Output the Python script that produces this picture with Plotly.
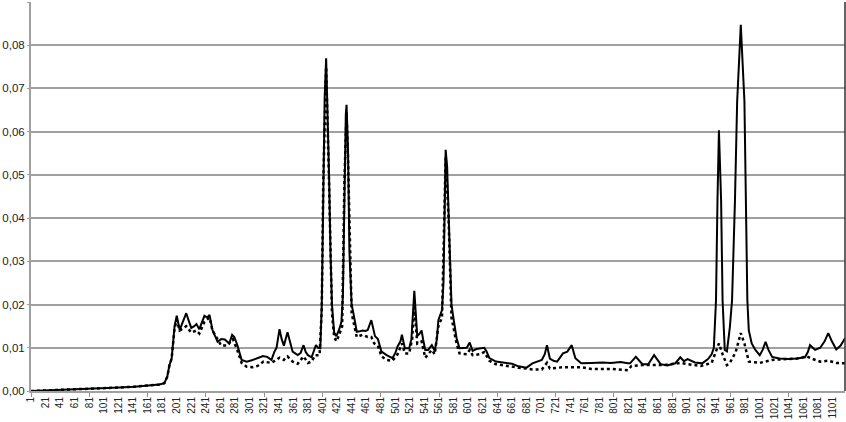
import plotly.graph_objects as go

# category index / value pairs
solid_x = [
    1, 19, 40, 60, 81, 102, 122, 143, 163, 177,
    184, 188, 191, 194, 198, 201, 205, 209, 214, 218,
    221, 225, 228, 232, 236, 239, 243, 246, 250, 253,
    257, 262, 267, 273, 277, 280, 284, 290, 297, 304,
    310, 315, 319, 325, 331, 335, 338, 342, 345, 348,
    353, 356, 360, 367, 371, 375, 378, 381, 386, 389,
    392, 395, 398, 400, 402, 404, 406, 408, 410, 412,
    414, 417, 420, 424, 427, 429, 431, 433, 434, 436,
    438, 441, 444, 448, 452, 456, 460, 463, 468, 470,
    473, 477, 480, 482, 489, 497, 501, 504, 508, 510,
    514, 520, 523, 525, 527, 529, 531, 534, 537, 539,
    542, 546, 551, 555, 558, 560, 565, 567, 568, 570,
    572, 574, 576, 578, 581, 585, 589, 594, 599, 603,
    607, 612, 617, 623, 626, 630, 639, 653, 661, 670,
    681, 689, 695, 702, 706, 709, 713, 718, 723, 731,
    737, 743, 748, 756, 770, 785, 797, 810, 820, 823,
    831, 840, 848, 856, 865, 874, 885, 892, 897, 902,
    912, 922, 930, 935, 938, 941, 943, 945, 948, 950,
    953, 956, 960, 963, 967, 970, 975, 978, 980, 982,
    984, 986, 990, 995, 1001, 1005, 1009, 1013, 1018, 1028,
    1040, 1052, 1063, 1067, 1070, 1077, 1084, 1090, 1095, 1100,
    1106, 1112, 1118,
]
solid_y = [
    0.0000, 0.0001, 0.0002, 0.0003, 0.0005, 0.0006, 0.0008, 0.0010, 0.0012, 0.0015,
    0.0018, 0.0033, 0.0060, 0.0075, 0.0150, 0.0174, 0.0141, 0.0160, 0.0180, 0.0160,
    0.0146, 0.0150, 0.0155, 0.0143, 0.0162, 0.0174, 0.0170, 0.0176, 0.0141, 0.0128,
    0.0114, 0.0120, 0.0119, 0.0110, 0.0130, 0.0125, 0.0107, 0.0072, 0.0068, 0.0071,
    0.0074, 0.0078, 0.0081, 0.0079, 0.0072, 0.0091, 0.0100, 0.0143, 0.0120, 0.0105,
    0.0136, 0.0115, 0.0091, 0.0083, 0.0088, 0.0106, 0.0090, 0.0083, 0.0078, 0.0092,
    0.0106, 0.0100, 0.0099, 0.0200, 0.0500, 0.0680, 0.0770, 0.0650, 0.0500, 0.0320,
    0.0200, 0.0135, 0.0127, 0.0143, 0.0160, 0.0220, 0.0500, 0.0640, 0.0662, 0.0560,
    0.0320, 0.0200, 0.0175, 0.0137, 0.0138, 0.0140, 0.0139, 0.0141, 0.0164, 0.0150,
    0.0127, 0.0120, 0.0105, 0.0091, 0.0083, 0.0076, 0.0088, 0.0103, 0.0115, 0.0130,
    0.0099, 0.0099, 0.0120, 0.0190, 0.0232, 0.0180, 0.0127, 0.0132, 0.0140, 0.0120,
    0.0095, 0.0095, 0.0106, 0.0093, 0.0120, 0.0164, 0.0187, 0.0250, 0.0400, 0.0558,
    0.0520, 0.0420, 0.0300, 0.0200, 0.0165, 0.0122, 0.0099, 0.0099, 0.0100, 0.0112,
    0.0093, 0.0097, 0.0099, 0.0100, 0.0092, 0.0076, 0.0068, 0.0064, 0.0063, 0.0057,
    0.0054, 0.0064, 0.0068, 0.0072, 0.0085, 0.0106, 0.0075, 0.0070, 0.0068, 0.0087,
    0.0091, 0.0106, 0.0076, 0.0064, 0.0065, 0.0066, 0.0065, 0.0067, 0.0064, 0.0064,
    0.0079, 0.0062, 0.0062, 0.0083, 0.0062, 0.0059, 0.0064, 0.0078, 0.0069, 0.0074,
    0.0066, 0.0064, 0.0074, 0.0085, 0.0100, 0.0210, 0.0440, 0.0603, 0.0440, 0.0210,
    0.0095, 0.0092, 0.0148, 0.0210, 0.0440, 0.0670, 0.0847, 0.0750, 0.0670, 0.0440,
    0.0210, 0.0140, 0.0110, 0.0095, 0.0083, 0.0095, 0.0114, 0.0095, 0.0079, 0.0075,
    0.0074, 0.0075, 0.0078, 0.0090, 0.0106, 0.0095, 0.0100, 0.0115, 0.0134, 0.0115,
    0.0096, 0.0105, 0.0122,
]

dotted_x = [
    1, 19, 40, 60, 81, 102, 122, 143, 163, 177,
    184, 188, 191, 194, 198, 201, 205, 209, 214, 221,
    228, 232, 239, 246, 250, 257, 262, 270, 278, 284,
    290, 297, 305, 312, 320, 331, 336, 342, 348, 353,
    360, 367, 375, 381, 386, 391, 397, 400, 402, 406,
    410, 414, 417, 420, 424, 428, 431, 434, 436, 441,
    448, 456, 463, 468, 472, 477, 482, 489, 497, 504,
    510, 514, 520, 524, 527, 531, 537, 542, 546, 551,
    555, 560, 565, 568, 570, 574, 578, 585, 589, 599,
    603, 607, 617, 623, 630, 639, 653, 670, 681, 689,
    702, 709, 713, 731, 756, 770, 797, 815, 820, 825,
    840, 870, 892, 902, 920, 935, 941, 945, 950, 956,
    960, 968, 975, 980, 986, 1001, 1018, 1052, 1066, 1072,
    1084, 1095, 1106, 1118,
]
dotted_y = [
    0.0000, 0.0001, 0.0002, 0.0003, 0.0005, 0.0006, 0.0008, 0.0010, 0.0012, 0.0015,
    0.0018, 0.0033, 0.0060, 0.0075, 0.0145, 0.0165, 0.0140, 0.0145, 0.0150, 0.0135,
    0.0140, 0.0133, 0.0160, 0.0170, 0.0140, 0.0120, 0.0105, 0.0105, 0.0120, 0.0095,
    0.0065, 0.0056, 0.0055, 0.0058, 0.0068, 0.0065, 0.0070, 0.0077, 0.0072, 0.0080,
    0.0068, 0.0063, 0.0080, 0.0065, 0.0068, 0.0083, 0.0083, 0.0190, 0.0480, 0.0750,
    0.0480, 0.0180, 0.0125, 0.0115, 0.0130, 0.0150, 0.0480, 0.0645, 0.0540, 0.0180,
    0.0125, 0.0130, 0.0125, 0.0125, 0.0110, 0.0105, 0.0080, 0.0072, 0.0070, 0.0085,
    0.0110, 0.0087, 0.0087, 0.0120, 0.0200, 0.0110, 0.0115, 0.0077, 0.0085, 0.0095,
    0.0085, 0.0150, 0.0170, 0.0380, 0.0540, 0.0400, 0.0170, 0.0110, 0.0087, 0.0085,
    0.0095, 0.0083, 0.0085, 0.0090, 0.0070, 0.0062, 0.0058, 0.0054, 0.0052, 0.0050,
    0.0050, 0.0065, 0.0052, 0.0055, 0.0055, 0.0051, 0.0051, 0.0049, 0.0048, 0.0058,
    0.0060, 0.0060, 0.0065, 0.0062, 0.0058, 0.0065, 0.0090, 0.0110, 0.0085, 0.0060,
    0.0065, 0.0090, 0.0134, 0.0110, 0.0068, 0.0065, 0.0072, 0.0075, 0.0080, 0.0075,
    0.0068, 0.0070, 0.0065, 0.0064,
]

x_ticks = list(range(1, 1102, 20))

fig = go.Figure()
fig.add_trace(go.Scatter(x=dotted_x, y=dotted_y, mode='lines',
                         line=dict(color='black', width=2.5, dash='dot')))
fig.add_trace(go.Scatter(x=solid_x, y=solid_y, mode='lines',
                         line=dict(color='black', width=2)))

fig.update_layout(
    width=846, height=422,
    margin=dict(l=31, r=1, t=2, b=31),
    paper_bgcolor='white', plot_bgcolor='white',
    showlegend=False,
    separators=', ',
    font=dict(family='Liberation Sans, Arial, sans-serif', color='#222222'),
)
fig.update_xaxes(
    range=[1, 1118], tickvals=x_ticks, ticktext=[str(v) for v in x_ticks],
    tickangle=-90, tickfont=dict(size=10), ticks='',
    minor=dict(tick0=1, dtick=80, ticks='outside', ticklen=4, tickcolor='#909090'),
    showgrid=False, zeroline=False, showline=True, linecolor='#a0a0a0', linewidth=2,
    automargin=False,
)
fig.update_yaxes(
    range=[0, 0.09], dtick=0.01, tickformat='.2f', tickfont=dict(size=11.5),
    showgrid=True, gridcolor='#a0a0a0', gridwidth=1.5, zeroline=False,
    showline=True, linecolor='#a0a0a0', linewidth=2,
    ticks='outside', ticklen=2, tickcolor='#a0a0a0', ticklabelstandoff=0,
    automargin=False,
)
fig.add_shape(type='line', xref='paper', yref='paper', x0=1, x1=1, y0=0, y1=1,
              line=dict(color='#303030', width=1.5))

# page has a default 8px body margin; drop it so the chart sits at the corner
fig.write_html("out.html", config={'displayModeBar': False},
               post_script="document.body.style.margin='0';")
